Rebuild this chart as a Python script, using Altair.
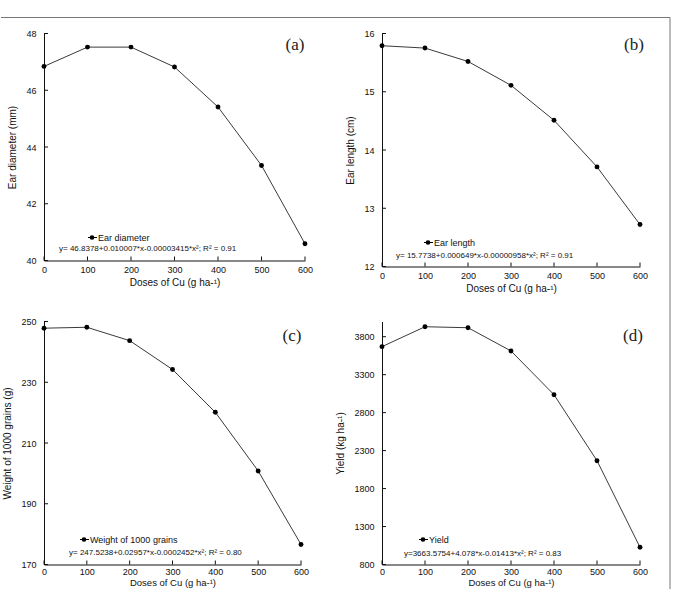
import altair as alt
import pandas as pd

# Copper doses applied (g ha-1)
doses = [0, 100, 200, 300, 400, 500, 600]

# Measured responses at each dose
ear_diameter = [46.84, 47.52, 47.52, 46.82, 45.41, 43.35, 40.59]
ear_length = [15.79, 15.75, 15.52, 15.11, 14.51, 13.71, 12.72]
weight_1000 = [247.8, 248.1, 243.7, 234.2, 220.1, 200.8, 176.6]
grain_yield = [3669, 3931, 3918, 3612, 3036, 2167, 1027]

# Axis tick values
x_ticks = [0, 100, 200, 300, 400, 500, 600]
ticks_a = [40, 42, 44, 46, 48]
ticks_b = [12, 13, 14, 15, 16]
ticks_c = [170, 190, 210, 230, 250]
ticks_d = [800, 1300, 1800, 2300, 2800, 3300, 3800]

# Regression equations shown on each panel
eq_a = "y= 46.8378+0.010007*x-0.00003415*x²; R² = 0.91"
eq_b = "y= 15.7738+0.000649*x-0.00000958*x²; R² = 0.91"
eq_c = "y= 247.5238+0.02957*x-0.0002452*x²; R² = 0.80"
eq_d = "y=3663.5754+4.078*x-0.01413*x²; R² = 0.83"

SANS = "Liberation Sans Narrow, Liberation Sans, Arial, sans-serif"
SERIF = "Liberation Serif, Times New Roman, serif"
X_TITLE = "Doses of Cu (g ha-¹)"


def panel(values, domain, yticks, ytitle, letter, name, equation,
          width, height, ann, frame=None, bottom_row=False):
    df = pd.DataFrame({"x": doses, "y": values})
    xs = alt.Scale(domain=[0, 600], nice=False, zero=False)
    ys = alt.Scale(domain=domain, nice=False, zero=False)

    x_axis = alt.Axis(values=x_ticks, ticks=False, tickSize=0, grid=False,
                      domainColor="#111", domainWidth=1,
                      labelPadding=3 if bottom_row else 5,
                      labelFlush=False, labelOverlap=False,
                      labelFont=SANS, labelFontSize=9, labelColor="#111",
                      title=X_TITLE, titleFont=SANS,
                      titleFontSize=9.5 if bottom_row else 10,
                      titleFontWeight="normal", titleColor="#111",
                      titlePadding=1 if bottom_row else 3)
    y_axis = alt.Axis(values=yticks, ticks=False, tickSize=0, grid=False,
                      domainColor="#111", domainWidth=1, labelPadding=8,
                      labelFlush=False, labelOverlap=False, format="d",
                      labelFont=SANS, labelFontSize=9, labelColor="#111",
                      title=ytitle, titleFont=SANS, titleFontSize=10,
                      titleFontWeight="normal", titleColor="#111",
                      titlePadding=8)
    X = alt.X("x:Q", scale=xs, axis=x_axis)
    Y = alt.Y("y:Q", scale=ys, axis=y_axis)

    base = alt.Chart(df)
    line = base.mark_line(color="#3a3a3a", strokeWidth=1).encode(x=X, y=Y)
    pts = base.mark_circle(color="#000", size=24, opacity=1).encode(x=X, y=Y)

    # inward-pointing tick marks
    xt = alt.Chart(pd.DataFrame({"x": x_ticks})).mark_rule(
        color="#111", strokeWidth=1).encode(
        x=X, y=alt.value(height), y2=alt.value(height - 4))
    yt = alt.Chart(pd.DataFrame({"y": yticks})).mark_rule(
        color="#111", strokeWidth=1).encode(
        y=Y, x=alt.value(0), x2=alt.value(4))

    one = alt.Chart(pd.DataFrame({"t": [0]}))
    tag = one.mark_text(text=letter, font=SERIF, fontSize=17,
                        color="#222", align="center",
                        baseline="middle").encode(
        x=alt.value(ann["tag"][0]), y=alt.value(ann["tag"][1]))
    dot = one.mark_circle(color="#000", size=22, opacity=1).encode(
        x=alt.value(ann["dot"][0]), y=alt.value(ann["dot"][1]))
    dash = one.mark_rule(color="#000", strokeWidth=1).encode(
        x=alt.value(ann["dot"][0] - 4), x2=alt.value(ann["dot"][0] + 5),
        y=alt.value(ann["dot"][1]))
    label = one.mark_text(text=name, font=SANS, fontSize=9, color="#111",
                          align="left", baseline="middle").encode(
        x=alt.value(ann["dot"][0] + 6), y=alt.value(ann["dot"][1] + 0.5))
    eq = one.mark_text(text=equation, font=SANS, fontSize=8, color="#111",
                       align="left", baseline="middle").encode(
        x=alt.value(ann["eq"][0]), y=alt.value(ann["eq"][1]))

    layers = [line, pts, xt, yt, tag, dash, dot, label, eq]
    if frame is not None:
        layers.extend(frame)
    return alt.layer(*layers).properties(width=width, height=height)


# surrounding figure frame: top edge and right edge
frame_top = alt.Chart(pd.DataFrame({"t": [0]})).mark_rule(
    color="#777", strokeWidth=1).encode(
    x=alt.value(-43), x2=alt.value(626), y=alt.value(-16))
frame_right = alt.Chart(pd.DataFrame({"t": [0]})).mark_rule(
    color="#777", strokeWidth=1).encode(
    x=alt.value(288), y=alt.value(-16), y2=alt.value(555.5))

pa = panel(ear_diameter, [40, 48], ticks_a, "Ear diameter (mm)", "(a)",
           "Ear diameter", eq_a, 261, 227,
           {"tag": (251, 11), "dot": (48, 204), "eq": (15, 215)},
           frame=[frame_top])
pb = panel(ear_length, [12, 16], ticks_b, "Ear length (cm)", "(b)",
           "Ear length", eq_b, 258, 233,
           {"tag": (252, 11), "dot": (46, 209), "eq": (14, 222)},
           frame=[frame_right])
pc = panel(weight_1000, [170, 250], ticks_c, "Weight of 1000 grains (g)",
           "(c)", "Weight of 1000 grains", eq_c, 257, 243,
           {"tag": (248, 14), "dot": (40, 218), "eq": (25, 231)},
           bottom_row=True)
pd_ = panel(grain_yield, [800, 4000], ticks_d, "Yield (kg ha-¹)", "(d)",
            "Yield", eq_d, 258, 243,
            {"tag": (251, 14), "dot": (41, 218), "eq": (22, 232)},
            bottom_row=True)

chart = alt.concat(
    pa, pb, pc, pd_, columns=2, bounds="flush",
    spacing={"row": 55, "column": 77},
).properties(
    padding={"left": 0, "top": 16.5, "right": 0, "bottom": 0},
    background="white",
).configure_view(stroke=None)

chart.save("out.html", embed_options={"renderer": "svg", "actions": False})
